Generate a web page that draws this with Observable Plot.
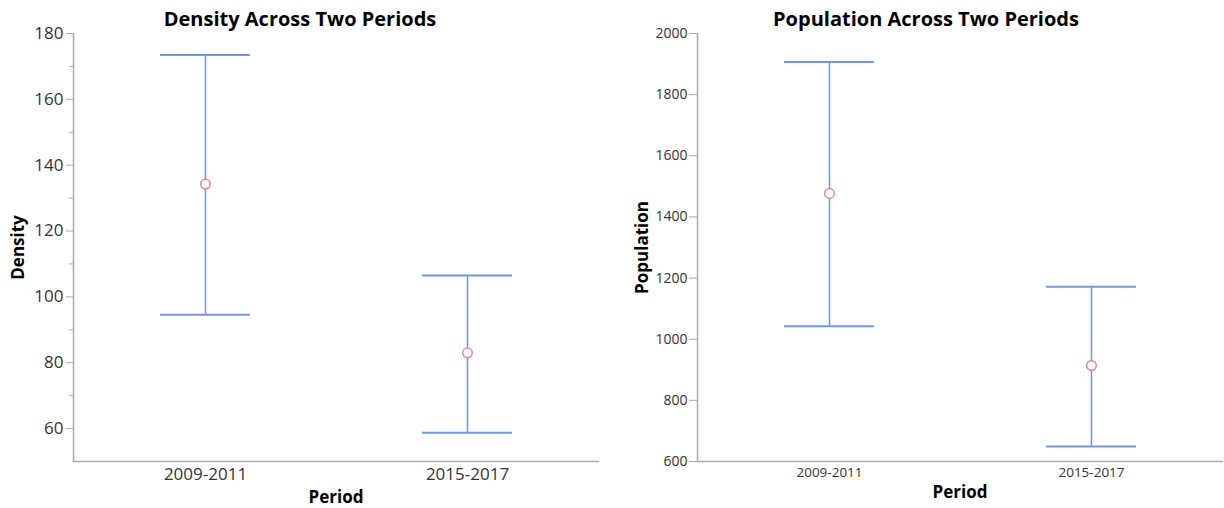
<!DOCTYPE html>
<html>
<head>
<meta charset="utf-8">
<script src="https://cdn.jsdelivr.net/npm/d3@7"></script>
<script src="https://cdn.jsdelivr.net/npm/@observablehq/plot@0.6"></script>
<style>
  html, body { margin: 0; padding: 0; background: #fff; }
  #wrap { position: relative; width: 1224px; height: 508px; font-family: "Open Sans", sans-serif; }
  .panel { position: absolute; top: 0; width: 612px; height: 508px; }
  .title { position: absolute; top: 5px; width: 100%; text-align: center; font-weight: bold; font-size: 20px; color: #000; z-index: 2; }
  .panel svg { position: absolute; top: 0; left: 0; }
</style>
</head>
<body>
<div id="wrap">
  <div class="panel" id="left" style="left:0"><div class="title" style="left:-6px">Density Across Two Periods</div></div>
  <div class="panel" id="right" style="left:612px"><div class="title" style="left:8px">Population Across Two Periods</div></div>
</div>
<script>
// ---- data ----
const periods = ["2009-2011", "2015-2017"];
const densityMean = [134.3, 83.0];
const densityLow = [94.6, 58.7];
const densityHigh = [173.5, 106.5];
const populationMean = [1477, 914];
const populationLow = [1042, 649];
const populationHigh = [1907, 1172];
const densityTicks = [60, 80, 100, 120, 140, 160, 180];
const densityMinorTicks = [70, 90, 110, 130, 150, 170];
const populationTicks = [600, 800, 1000, 1200, 1400, 1600, 1800, 2000];

const blue = "#7196ee";
const pink = "#e58590";
const axisGray = "#ababab";
const textColor = "#333";

function rows(mean, low, high) {
  return periods.map((p, i) => ({period: p, mean: mean[i], low: low[i], high: high[i]}));
}

function chart({data, domain, ticks, minor, label, marginLeft, marginRight, tickFont, xFont, tickSize, tickPadding, labelOffset, xLabelOffset}) {
  const marks = [
    Plot.axisY({ticks, tickSize, tickPadding, tickFormat: "d", fontSize: tickFont, stroke: axisGray, fill: textColor,
      label, labelAnchor: "center", labelArrow: "none", labelOffset}),
  ];
  if (minor) marks.push(Plot.axisY({ticks: minor, tickSize: 4, text: null, stroke: axisGray, label: null}));
  marks.push(
    Plot.axisX({tickSize: 0, tickPadding: 6, fontSize: xFont, fill: textColor,
      label: "Period", labelAnchor: "center", labelArrow: "none", labelOffset: xLabelOffset}),
    Plot.frame({anchor: "left", stroke: axisGray, strokeWidth: 1.5}),
    Plot.frame({anchor: "bottom", stroke: axisGray, strokeWidth: 1.5}),
    Plot.ruleX(data, {x: "period", y1: "low", y2: "high", stroke: blue, strokeWidth: 1.5}),
    Plot.tickY(data, {x: "period", y: "high", stroke: blue, strokeWidth: 2}),
    Plot.tickY(data, {x: "period", y: "low", stroke: blue, strokeWidth: 2}),
    Plot.dot(data, {x: "period", y: "mean", r: 4.8, fill: "white", stroke: pink, strokeWidth: 1.5})
  );
  return Plot.plot({
    width: 612, height: 508,
    marginTop: 33, marginBottom: 47, marginLeft, marginRight,
    style: {fontFamily: "'Open Sans', sans-serif", background: "transparent", overflow: "visible"},
    x: {type: "band", domain: periods, paddingInner: 0.657, paddingOuter: 0.3286},
    y: {domain},
    marks
  });
}

const left = chart({
  data: rows(densityMean, densityLow, densityHigh), domain: [50, 180],
  ticks: densityTicks, minor: densityMinorTicks, label: "Density",
  marginLeft: 73, marginRight: 14, tickFont: 17, xFont: 17, tickSize: 7, tickPadding: 3,
  labelOffset: 62, xLabelOffset: 41
});
const right = chart({
  data: rows(populationMean, populationLow, populationHigh), domain: [600, 2000],
  ticks: populationTicks, minor: null, label: "Population",
  marginLeft: 85, marginRight: 2, tickFont: 14, xFont: 13.5, tickSize: 8, tickPadding: 2,
  labelOffset: 62, xLabelOffset: 36
});
document.getElementById("left").appendChild(left);
document.getElementById("right").appendChild(right);

// bold axis labels
for (const svg of [left, right]) {
  svg.querySelectorAll("g[aria-label='y-axis label'] text, g[aria-label='x-axis label'] text").forEach(t => {
    t.setAttribute("font-weight", "bold");
    t.setAttribute("font-size", "17");
    t.setAttribute("fill", "#000");
  });
}
</script>
</body>
</html>
